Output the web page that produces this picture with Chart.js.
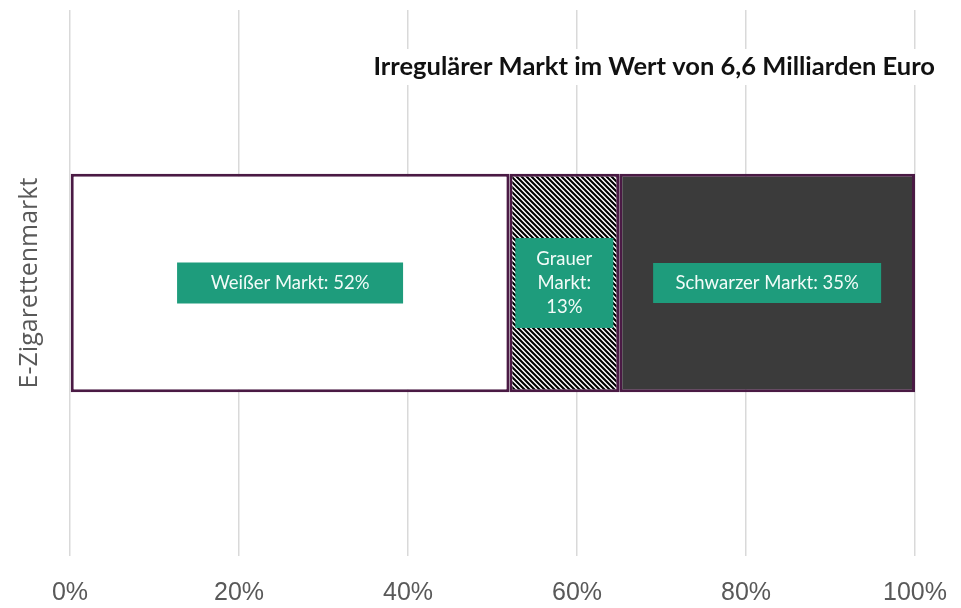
<!DOCTYPE html>
<html>
<head>
<meta charset="utf-8">
<script src="https://cdn.jsdelivr.net/npm/chart.js@4"></script>
<style>
  html, body { margin: 0; padding: 0; background: #fff; }
  #wrap { width: 961px; height: 608px; }
</style>
</head>
<body>
<div id="wrap"><canvas id="chart"></canvas></div>
<script>
// data
const categories = ['E-Zigarettenmarkt'];
const segmentNames = ['Weißer Markt', 'Grauer Markt', 'Schwarzer Markt'];
const segmentValues = [52, 13, 35];
const segmentLabels = [['Weißer Markt: 52%'], ['Grauer', 'Markt:', '13%'], ['Schwarzer Markt: 35%']];
const tickValues = [0, 20, 40, 60, 80, 100];
const chartTitle = 'Irregulärer Markt im Wert von 6,6 Milliarden Euro';

// hatched fill for the grey market
function makeStripes() {
  const c = document.createElement('canvas');
  c.width = 5; c.height = 5;
  const g = c.getContext('2d');
  g.fillStyle = '#fff';
  g.fillRect(0, 0, 5, 5);
  g.strokeStyle = '#000';
  g.lineWidth = 2.1;
  g.beginPath();
  g.moveTo(-2.5, -2.5); g.lineTo(7.5, 7.5);
  g.moveTo(-2.5, 2.5); g.lineTo(2.5, 7.5);
  g.moveTo(2.5, -2.5); g.lineTo(7.5, 2.5);
  g.stroke();
  return document.getElementById('chart').getContext('2d').createPattern(c, 'repeat');
}

const fills = ['#ffffff', makeStripes(), '#3b3b3b'];
const boxSizes = [[226, 41], [98, 90], [228, 40]]; // label box width/height

const datasets = segmentNames.map((name, i) => ({
  label: name,
  data: [segmentValues[i]],
  backgroundColor: fills[i],
  borderColor: '#4a1a44',
  borderWidth: 3,
  borderSkipped: false,
  barPercentage: 1,
  categoryPercentage: 0.4
}));

// title box drawn over the grid, like in the original
const titlePlugin = {
  id: 'innerTitle',
  beforeDatasetsDraw(chart) {
    const ctx = chart.ctx;
    ctx.save();
    ctx.font = 'bold 25.5px Lato';
    const w = ctx.measureText(chartTitle).width;
    const right = 935, cy = 67;
    ctx.fillStyle = '#fff';
    ctx.fillRect(right - w - 6, cy - 18, w + 12, 36);
    ctx.fillStyle = '#111';
    ctx.textAlign = 'right';
    ctx.textBaseline = 'middle';
    ctx.fillText(chartTitle, right, cy);
    ctx.restore();
  }
};

// green label boxes in the middle of each segment
const boxLabels = {
  id: 'boxLabels',
  afterDatasetsDraw(chart) {
    const ctx = chart.ctx;
    ctx.save();
    chart.data.datasets.forEach((ds, i) => {
      const bar = chart.getDatasetMeta(i).data[0];
      const cx = (bar.x + bar.base) / 2;
      const cy = bar.y;
      const [bw, bh] = boxSizes[i];
      ctx.fillStyle = '#1e9c7c';
      ctx.fillRect(cx - bw / 2, cy - bh / 2, bw, bh);
      ctx.fillStyle = '#f2fbf8';
      ctx.font = '18.5px Lato';
      ctx.textAlign = 'center';
      ctx.textBaseline = 'middle';
      const lines = segmentLabels[i];
      const lh = 24;
      lines.forEach((t, k) => {
        ctx.fillText(t, cx, cy + (k - (lines.length - 1) / 2) * lh);
      });
    });
    ctx.restore();
  }
};

new Chart(document.getElementById('chart'), {
  type: 'bar',
  data: { labels: categories, datasets: datasets },
  options: {
    indexAxis: 'y',
    responsive: true,
    maintainAspectRatio: false,
    animation: false,
    layout: { padding: { left: 15, right: 46, top: 10, bottom: 0 } },
    plugins: { legend: { display: false }, tooltip: { enabled: false } },
    scales: {
      x: {
        stacked: true,
        min: 0,
        max: 100,
        afterBuildTicks: (axis) => { axis.ticks = tickValues.map(v => ({ value: v })); },
        afterFit: (axis) => { axis.height = 52; axis.paddingLeft = 0; axis.paddingRight = 0; },
        grid: { color: '#d9d9d9', lineWidth: 1.5, drawTicks: false },
        border: { display: false },
        ticks: {
          color: '#595959',
          font: { family: 'Liberation Sans', size: 25 },
          padding: 22,
          maxRotation: 0,
          callback: (v) => v + '%'
        }
      },
      y: {
        stacked: true,
        grid: { display: false, drawTicks: false },
        border: { display: false },
        ticks: { display: false },
        title: {
          display: true,
          text: categories[0],
          color: '#595959',
          font: { family: 'Open Sans', size: 25 },
          padding: { top: 0, bottom: 25 }
        }
      }
    }
  },
  plugins: [titlePlugin, boxLabels]
});
</script>
</body>
</html>
